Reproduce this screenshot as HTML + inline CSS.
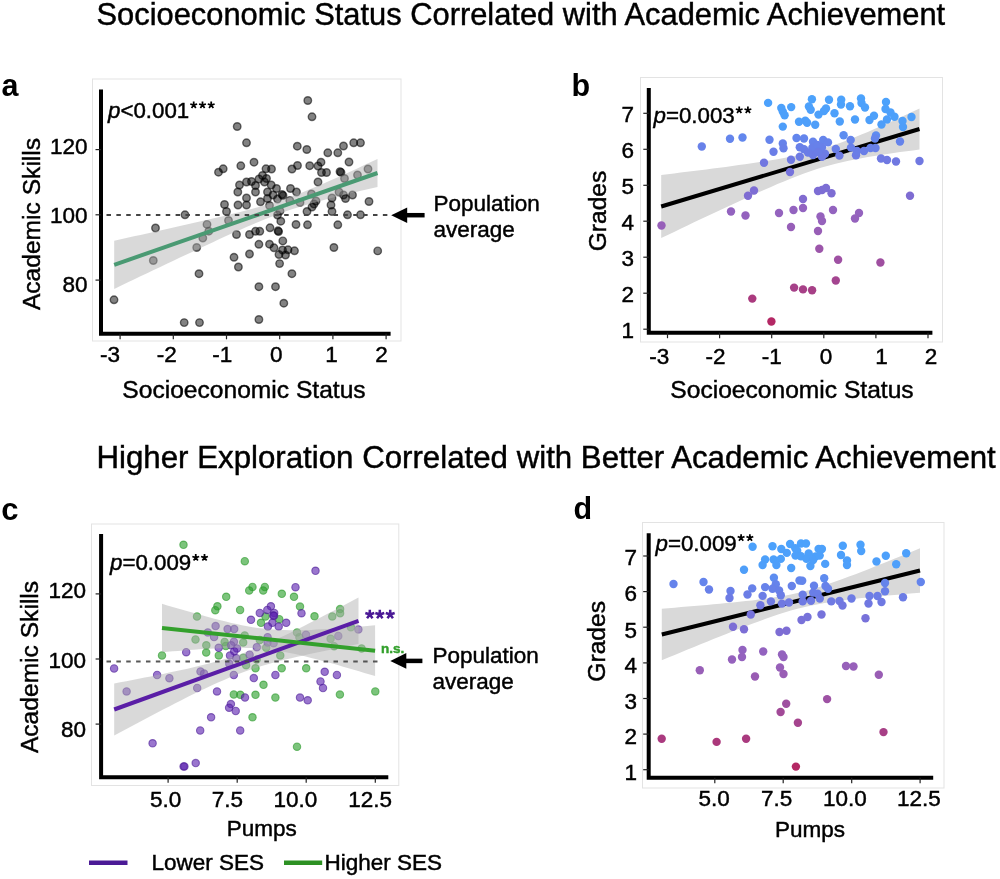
<!DOCTYPE html>
<html><head><meta charset="utf-8"><style>
html,body{margin:0;padding:0;background:#fff;}
svg{display:block;font-family:"Liberation Sans", sans-serif;will-change:transform;}
</style></head><body>
<svg width="1000" height="879" viewBox="0 0 1000 879">
<rect width="1000" height="879" fill="#fff"/>
<text x="96.5" y="25.0" font-size="30.85" text-anchor="start" font-weight="normal" font-style="normal" fill="#000"  stroke="#000" stroke-width="0.45">Socioeconomic Status Correlated with Academic Achievement</text>
<text x="96.5" y="468.4" font-size="31.24" text-anchor="start" font-weight="normal" font-style="normal" fill="#000"  stroke="#000" stroke-width="0.45">Higher Exploration Correlated with Better Academic Achievement</text>
<text x="1.5" y="96.0" font-size="30.5" text-anchor="start" font-weight="bold" font-style="normal" fill="#000" >a</text>
<rect x="92.5" y="79.0" width="308.5" height="262.0" fill="none" stroke="#e3e3e3" stroke-width="1"/>
<circle cx="237.2" cy="126.5" r="3.75" fill="#000" fill-opacity="0.49" stroke="#000" stroke-opacity="0.55" stroke-width="1.4"/>
<circle cx="246.5" cy="142.8" r="3.75" fill="#000" fill-opacity="0.49" stroke="#000" stroke-opacity="0.55" stroke-width="1.4"/>
<circle cx="297.3" cy="146.2" r="3.75" fill="#000" fill-opacity="0.49" stroke="#000" stroke-opacity="0.55" stroke-width="1.4"/>
<circle cx="254.0" cy="162.2" r="3.75" fill="#000" fill-opacity="0.49" stroke="#000" stroke-opacity="0.55" stroke-width="1.4"/>
<circle cx="307.8" cy="100.5" r="3.75" fill="#000" fill-opacity="0.49" stroke="#000" stroke-opacity="0.55" stroke-width="1.4"/>
<circle cx="312.0" cy="116.8" r="3.75" fill="#000" fill-opacity="0.49" stroke="#000" stroke-opacity="0.55" stroke-width="1.4"/>
<circle cx="306.8" cy="149.5" r="3.75" fill="#000" fill-opacity="0.49" stroke="#000" stroke-opacity="0.55" stroke-width="1.4"/>
<circle cx="327.8" cy="152.8" r="3.75" fill="#000" fill-opacity="0.49" stroke="#000" stroke-opacity="0.55" stroke-width="1.4"/>
<circle cx="337.8" cy="152.8" r="3.75" fill="#000" fill-opacity="0.49" stroke="#000" stroke-opacity="0.55" stroke-width="1.4"/>
<circle cx="343.5" cy="146.0" r="3.75" fill="#000" fill-opacity="0.49" stroke="#000" stroke-opacity="0.55" stroke-width="1.4"/>
<circle cx="353.7" cy="142.8" r="3.75" fill="#000" fill-opacity="0.49" stroke="#000" stroke-opacity="0.55" stroke-width="1.4"/>
<circle cx="360.5" cy="142.8" r="3.75" fill="#000" fill-opacity="0.49" stroke="#000" stroke-opacity="0.55" stroke-width="1.4"/>
<circle cx="349.0" cy="162.0" r="3.75" fill="#000" fill-opacity="0.49" stroke="#000" stroke-opacity="0.55" stroke-width="1.4"/>
<circle cx="321.0" cy="162.2" r="3.75" fill="#000" fill-opacity="0.49" stroke="#000" stroke-opacity="0.55" stroke-width="1.4"/>
<circle cx="240.8" cy="165.8" r="3.75" fill="#000" fill-opacity="0.49" stroke="#000" stroke-opacity="0.55" stroke-width="1.4"/>
<circle cx="223.2" cy="168.8" r="3.75" fill="#000" fill-opacity="0.49" stroke="#000" stroke-opacity="0.55" stroke-width="1.4"/>
<circle cx="218.5" cy="172.2" r="3.75" fill="#000" fill-opacity="0.49" stroke="#000" stroke-opacity="0.55" stroke-width="1.4"/>
<circle cx="266.0" cy="168.8" r="3.75" fill="#000" fill-opacity="0.49" stroke="#000" stroke-opacity="0.55" stroke-width="1.4"/>
<circle cx="271.5" cy="169.0" r="3.75" fill="#000" fill-opacity="0.49" stroke="#000" stroke-opacity="0.55" stroke-width="1.4"/>
<circle cx="292.0" cy="169.0" r="3.75" fill="#000" fill-opacity="0.49" stroke="#000" stroke-opacity="0.55" stroke-width="1.4"/>
<circle cx="297.5" cy="165.5" r="3.75" fill="#000" fill-opacity="0.49" stroke="#000" stroke-opacity="0.55" stroke-width="1.4"/>
<circle cx="262.5" cy="175.5" r="3.75" fill="#000" fill-opacity="0.49" stroke="#000" stroke-opacity="0.55" stroke-width="1.4"/>
<circle cx="259.0" cy="179.0" r="3.75" fill="#000" fill-opacity="0.49" stroke="#000" stroke-opacity="0.55" stroke-width="1.4"/>
<circle cx="266.5" cy="178.5" r="3.75" fill="#000" fill-opacity="0.49" stroke="#000" stroke-opacity="0.55" stroke-width="1.4"/>
<circle cx="264.5" cy="182.0" r="3.75" fill="#000" fill-opacity="0.49" stroke="#000" stroke-opacity="0.55" stroke-width="1.4"/>
<circle cx="246.5" cy="182.0" r="3.75" fill="#000" fill-opacity="0.49" stroke="#000" stroke-opacity="0.55" stroke-width="1.4"/>
<circle cx="251.5" cy="181.5" r="3.75" fill="#000" fill-opacity="0.49" stroke="#000" stroke-opacity="0.55" stroke-width="1.4"/>
<circle cx="255.5" cy="185.5" r="3.75" fill="#000" fill-opacity="0.49" stroke="#000" stroke-opacity="0.55" stroke-width="1.4"/>
<circle cx="239.5" cy="185.0" r="3.75" fill="#000" fill-opacity="0.49" stroke="#000" stroke-opacity="0.55" stroke-width="1.4"/>
<circle cx="271.2" cy="185.0" r="3.75" fill="#000" fill-opacity="0.49" stroke="#000" stroke-opacity="0.55" stroke-width="1.4"/>
<circle cx="276.5" cy="188.5" r="3.75" fill="#000" fill-opacity="0.49" stroke="#000" stroke-opacity="0.55" stroke-width="1.4"/>
<circle cx="290.5" cy="188.5" r="3.75" fill="#000" fill-opacity="0.49" stroke="#000" stroke-opacity="0.55" stroke-width="1.4"/>
<circle cx="296.5" cy="192.0" r="3.75" fill="#000" fill-opacity="0.49" stroke="#000" stroke-opacity="0.55" stroke-width="1.4"/>
<circle cx="237.8" cy="192.0" r="3.75" fill="#000" fill-opacity="0.49" stroke="#000" stroke-opacity="0.55" stroke-width="1.4"/>
<circle cx="255.5" cy="192.0" r="3.75" fill="#000" fill-opacity="0.49" stroke="#000" stroke-opacity="0.55" stroke-width="1.4"/>
<circle cx="267.5" cy="192.0" r="3.75" fill="#000" fill-opacity="0.49" stroke="#000" stroke-opacity="0.55" stroke-width="1.4"/>
<circle cx="273.0" cy="195.0" r="3.75" fill="#000" fill-opacity="0.49" stroke="#000" stroke-opacity="0.55" stroke-width="1.4"/>
<circle cx="282.0" cy="194.5" r="3.75" fill="#000" fill-opacity="0.49" stroke="#000" stroke-opacity="0.55" stroke-width="1.4"/>
<circle cx="283.0" cy="195.5" r="3.75" fill="#000" fill-opacity="0.49" stroke="#000" stroke-opacity="0.55" stroke-width="1.4"/>
<circle cx="246.5" cy="198.0" r="3.75" fill="#000" fill-opacity="0.49" stroke="#000" stroke-opacity="0.55" stroke-width="1.4"/>
<circle cx="267.5" cy="198.5" r="3.75" fill="#000" fill-opacity="0.49" stroke="#000" stroke-opacity="0.55" stroke-width="1.4"/>
<circle cx="277.5" cy="199.0" r="3.75" fill="#000" fill-opacity="0.49" stroke="#000" stroke-opacity="0.55" stroke-width="1.4"/>
<circle cx="260.5" cy="201.8" r="3.75" fill="#000" fill-opacity="0.49" stroke="#000" stroke-opacity="0.55" stroke-width="1.4"/>
<circle cx="224.5" cy="204.5" r="3.75" fill="#000" fill-opacity="0.49" stroke="#000" stroke-opacity="0.55" stroke-width="1.4"/>
<circle cx="238.0" cy="205.0" r="3.75" fill="#000" fill-opacity="0.49" stroke="#000" stroke-opacity="0.55" stroke-width="1.4"/>
<circle cx="246.5" cy="205.0" r="3.75" fill="#000" fill-opacity="0.49" stroke="#000" stroke-opacity="0.55" stroke-width="1.4"/>
<circle cx="289.8" cy="200.5" r="3.75" fill="#000" fill-opacity="0.49" stroke="#000" stroke-opacity="0.55" stroke-width="1.4"/>
<circle cx="269.5" cy="205.5" r="3.75" fill="#000" fill-opacity="0.49" stroke="#000" stroke-opacity="0.55" stroke-width="1.4"/>
<circle cx="300.0" cy="202.5" r="3.75" fill="#000" fill-opacity="0.49" stroke="#000" stroke-opacity="0.55" stroke-width="1.4"/>
<circle cx="226.5" cy="211.5" r="3.75" fill="#000" fill-opacity="0.49" stroke="#000" stroke-opacity="0.55" stroke-width="1.4"/>
<circle cx="280.0" cy="211.0" r="3.75" fill="#000" fill-opacity="0.49" stroke="#000" stroke-opacity="0.55" stroke-width="1.4"/>
<circle cx="277.5" cy="215.0" r="3.75" fill="#000" fill-opacity="0.49" stroke="#000" stroke-opacity="0.55" stroke-width="1.4"/>
<circle cx="280.8" cy="221.2" r="3.75" fill="#000" fill-opacity="0.49" stroke="#000" stroke-opacity="0.55" stroke-width="1.4"/>
<circle cx="207.0" cy="224.4" r="3.75" fill="#000" fill-opacity="0.49" stroke="#000" stroke-opacity="0.55" stroke-width="1.4"/>
<circle cx="228.5" cy="220.5" r="3.75" fill="#000" fill-opacity="0.49" stroke="#000" stroke-opacity="0.55" stroke-width="1.4"/>
<circle cx="296.0" cy="224.5" r="3.75" fill="#000" fill-opacity="0.49" stroke="#000" stroke-opacity="0.55" stroke-width="1.4"/>
<circle cx="208.8" cy="231.2" r="3.75" fill="#000" fill-opacity="0.49" stroke="#000" stroke-opacity="0.55" stroke-width="1.4"/>
<circle cx="236.5" cy="234.5" r="3.75" fill="#000" fill-opacity="0.49" stroke="#000" stroke-opacity="0.55" stroke-width="1.4"/>
<circle cx="249.5" cy="234.5" r="3.75" fill="#000" fill-opacity="0.49" stroke="#000" stroke-opacity="0.55" stroke-width="1.4"/>
<circle cx="255.5" cy="231.3" r="3.75" fill="#000" fill-opacity="0.49" stroke="#000" stroke-opacity="0.55" stroke-width="1.4"/>
<circle cx="259.8" cy="231.3" r="3.75" fill="#000" fill-opacity="0.49" stroke="#000" stroke-opacity="0.55" stroke-width="1.4"/>
<circle cx="270.0" cy="227.8" r="3.75" fill="#000" fill-opacity="0.49" stroke="#000" stroke-opacity="0.55" stroke-width="1.4"/>
<circle cx="278.0" cy="230.8" r="3.75" fill="#000" fill-opacity="0.49" stroke="#000" stroke-opacity="0.55" stroke-width="1.4"/>
<circle cx="278.6" cy="231.6" r="3.75" fill="#000" fill-opacity="0.49" stroke="#000" stroke-opacity="0.55" stroke-width="1.4"/>
<circle cx="202.8" cy="238.0" r="3.75" fill="#000" fill-opacity="0.49" stroke="#000" stroke-opacity="0.55" stroke-width="1.4"/>
<circle cx="185.0" cy="214.8" r="3.75" fill="#000" fill-opacity="0.49" stroke="#000" stroke-opacity="0.55" stroke-width="1.4"/>
<circle cx="155.5" cy="228.0" r="3.75" fill="#000" fill-opacity="0.49" stroke="#000" stroke-opacity="0.55" stroke-width="1.4"/>
<circle cx="153.3" cy="260.5" r="3.75" fill="#000" fill-opacity="0.49" stroke="#000" stroke-opacity="0.55" stroke-width="1.4"/>
<circle cx="196.7" cy="247.5" r="3.75" fill="#000" fill-opacity="0.49" stroke="#000" stroke-opacity="0.55" stroke-width="1.4"/>
<circle cx="199.0" cy="273.7" r="3.75" fill="#000" fill-opacity="0.49" stroke="#000" stroke-opacity="0.55" stroke-width="1.4"/>
<circle cx="114.0" cy="299.8" r="3.75" fill="#000" fill-opacity="0.49" stroke="#000" stroke-opacity="0.55" stroke-width="1.4"/>
<circle cx="184.2" cy="322.6" r="3.75" fill="#000" fill-opacity="0.49" stroke="#000" stroke-opacity="0.55" stroke-width="1.4"/>
<circle cx="199.5" cy="322.6" r="3.75" fill="#000" fill-opacity="0.49" stroke="#000" stroke-opacity="0.55" stroke-width="1.4"/>
<circle cx="309.7" cy="165.7" r="3.75" fill="#000" fill-opacity="0.49" stroke="#000" stroke-opacity="0.55" stroke-width="1.4"/>
<circle cx="318.0" cy="166.0" r="3.75" fill="#000" fill-opacity="0.49" stroke="#000" stroke-opacity="0.55" stroke-width="1.4"/>
<circle cx="321.5" cy="172.5" r="3.75" fill="#000" fill-opacity="0.49" stroke="#000" stroke-opacity="0.55" stroke-width="1.4"/>
<circle cx="326.5" cy="172.5" r="3.75" fill="#000" fill-opacity="0.49" stroke="#000" stroke-opacity="0.55" stroke-width="1.4"/>
<circle cx="340.0" cy="171.6" r="3.75" fill="#000" fill-opacity="0.49" stroke="#000" stroke-opacity="0.55" stroke-width="1.4"/>
<circle cx="341.0" cy="172.4" r="3.75" fill="#000" fill-opacity="0.49" stroke="#000" stroke-opacity="0.55" stroke-width="1.4"/>
<circle cx="344.5" cy="178.5" r="3.75" fill="#000" fill-opacity="0.49" stroke="#000" stroke-opacity="0.55" stroke-width="1.4"/>
<circle cx="357.5" cy="175.0" r="3.75" fill="#000" fill-opacity="0.49" stroke="#000" stroke-opacity="0.55" stroke-width="1.4"/>
<circle cx="368.0" cy="169.0" r="3.75" fill="#000" fill-opacity="0.49" stroke="#000" stroke-opacity="0.55" stroke-width="1.4"/>
<circle cx="318.0" cy="182.0" r="3.75" fill="#000" fill-opacity="0.49" stroke="#000" stroke-opacity="0.55" stroke-width="1.4"/>
<circle cx="311.5" cy="194.0" r="3.75" fill="#000" fill-opacity="0.49" stroke="#000" stroke-opacity="0.55" stroke-width="1.4"/>
<circle cx="316.0" cy="201.0" r="3.75" fill="#000" fill-opacity="0.49" stroke="#000" stroke-opacity="0.55" stroke-width="1.4"/>
<circle cx="314.0" cy="204.0" r="3.75" fill="#000" fill-opacity="0.49" stroke="#000" stroke-opacity="0.55" stroke-width="1.4"/>
<circle cx="312.0" cy="207.0" r="3.75" fill="#000" fill-opacity="0.49" stroke="#000" stroke-opacity="0.55" stroke-width="1.4"/>
<circle cx="307.0" cy="211.5" r="3.75" fill="#000" fill-opacity="0.49" stroke="#000" stroke-opacity="0.55" stroke-width="1.4"/>
<circle cx="332.0" cy="198.0" r="3.75" fill="#000" fill-opacity="0.49" stroke="#000" stroke-opacity="0.55" stroke-width="1.4"/>
<circle cx="331.0" cy="205.0" r="3.75" fill="#000" fill-opacity="0.49" stroke="#000" stroke-opacity="0.55" stroke-width="1.4"/>
<circle cx="332.0" cy="211.5" r="3.75" fill="#000" fill-opacity="0.49" stroke="#000" stroke-opacity="0.55" stroke-width="1.4"/>
<circle cx="339.0" cy="192.0" r="3.75" fill="#000" fill-opacity="0.49" stroke="#000" stroke-opacity="0.55" stroke-width="1.4"/>
<circle cx="343.5" cy="195.0" r="3.75" fill="#000" fill-opacity="0.49" stroke="#000" stroke-opacity="0.55" stroke-width="1.4"/>
<circle cx="345.5" cy="198.5" r="3.75" fill="#000" fill-opacity="0.49" stroke="#000" stroke-opacity="0.55" stroke-width="1.4"/>
<circle cx="352.5" cy="195.0" r="3.75" fill="#000" fill-opacity="0.49" stroke="#000" stroke-opacity="0.55" stroke-width="1.4"/>
<circle cx="369.0" cy="201.5" r="3.75" fill="#000" fill-opacity="0.49" stroke="#000" stroke-opacity="0.55" stroke-width="1.4"/>
<circle cx="347.5" cy="214.8" r="3.75" fill="#000" fill-opacity="0.49" stroke="#000" stroke-opacity="0.55" stroke-width="1.4"/>
<circle cx="360.5" cy="214.8" r="3.75" fill="#000" fill-opacity="0.49" stroke="#000" stroke-opacity="0.55" stroke-width="1.4"/>
<circle cx="307.5" cy="224.8" r="3.75" fill="#000" fill-opacity="0.49" stroke="#000" stroke-opacity="0.55" stroke-width="1.4"/>
<circle cx="337.8" cy="224.8" r="3.75" fill="#000" fill-opacity="0.49" stroke="#000" stroke-opacity="0.55" stroke-width="1.4"/>
<circle cx="282.8" cy="240.9" r="3.75" fill="#000" fill-opacity="0.49" stroke="#000" stroke-opacity="0.55" stroke-width="1.4"/>
<circle cx="258.9" cy="244.3" r="3.75" fill="#000" fill-opacity="0.49" stroke="#000" stroke-opacity="0.55" stroke-width="1.4"/>
<circle cx="269.5" cy="244.2" r="3.75" fill="#000" fill-opacity="0.49" stroke="#000" stroke-opacity="0.55" stroke-width="1.4"/>
<circle cx="274.0" cy="247.8" r="3.75" fill="#000" fill-opacity="0.49" stroke="#000" stroke-opacity="0.55" stroke-width="1.4"/>
<circle cx="282.5" cy="250.0" r="3.75" fill="#000" fill-opacity="0.49" stroke="#000" stroke-opacity="0.55" stroke-width="1.4"/>
<circle cx="288.0" cy="249.8" r="3.75" fill="#000" fill-opacity="0.49" stroke="#000" stroke-opacity="0.55" stroke-width="1.4"/>
<circle cx="279.0" cy="254.5" r="3.75" fill="#000" fill-opacity="0.49" stroke="#000" stroke-opacity="0.55" stroke-width="1.4"/>
<circle cx="285.5" cy="255.0" r="3.75" fill="#000" fill-opacity="0.49" stroke="#000" stroke-opacity="0.55" stroke-width="1.4"/>
<circle cx="294.5" cy="250.8" r="3.75" fill="#000" fill-opacity="0.49" stroke="#000" stroke-opacity="0.55" stroke-width="1.4"/>
<circle cx="249.5" cy="254.0" r="3.75" fill="#000" fill-opacity="0.49" stroke="#000" stroke-opacity="0.55" stroke-width="1.4"/>
<circle cx="234.0" cy="257.3" r="3.75" fill="#000" fill-opacity="0.49" stroke="#000" stroke-opacity="0.55" stroke-width="1.4"/>
<circle cx="238.4" cy="267.0" r="3.75" fill="#000" fill-opacity="0.49" stroke="#000" stroke-opacity="0.55" stroke-width="1.4"/>
<circle cx="279.6" cy="263.6" r="3.75" fill="#000" fill-opacity="0.49" stroke="#000" stroke-opacity="0.55" stroke-width="1.4"/>
<circle cx="291.9" cy="273.7" r="3.75" fill="#000" fill-opacity="0.49" stroke="#000" stroke-opacity="0.55" stroke-width="1.4"/>
<circle cx="258.9" cy="286.7" r="3.75" fill="#000" fill-opacity="0.49" stroke="#000" stroke-opacity="0.55" stroke-width="1.4"/>
<circle cx="275.5" cy="286.7" r="3.75" fill="#000" fill-opacity="0.49" stroke="#000" stroke-opacity="0.55" stroke-width="1.4"/>
<circle cx="283.8" cy="303.2" r="3.75" fill="#000" fill-opacity="0.49" stroke="#000" stroke-opacity="0.55" stroke-width="1.4"/>
<circle cx="258.9" cy="319.5" r="3.75" fill="#000" fill-opacity="0.49" stroke="#000" stroke-opacity="0.55" stroke-width="1.4"/>
<circle cx="333.9" cy="247.5" r="3.75" fill="#000" fill-opacity="0.49" stroke="#000" stroke-opacity="0.55" stroke-width="1.4"/>
<circle cx="377.7" cy="250.9" r="3.75" fill="#000" fill-opacity="0.49" stroke="#000" stroke-opacity="0.55" stroke-width="1.4"/>
<path d="M114.2,240.7 L120.8,239.2 L127.4,237.8 L133.9,236.3 L140.5,234.9 L147.1,233.4 L153.7,232.0 L160.3,230.5 L166.9,229.1 L173.4,227.6 L180.0,226.1 L186.6,224.6 L193.2,223.1 L199.8,221.6 L206.4,220.1 L212.9,218.6 L219.5,217.0 L226.1,215.4 L232.7,213.8 L239.3,212.2 L245.9,210.5 L252.4,208.7 L259.0,206.9 L265.6,205.0 L272.2,203.0 L278.8,200.9 L285.3,198.7 L291.9,196.3 L298.5,193.9 L305.1,191.3 L311.7,188.6 L318.3,185.8 L324.8,183.0 L331.4,180.1 L338.0,177.2 L344.6,174.2 L351.2,171.2 L357.8,168.2 L364.3,165.1 L370.9,162.1 L377.5,159.0 L377.5,187.0 L370.9,188.5 L364.3,190.0 L357.8,191.6 L351.2,193.1 L344.6,194.7 L338.0,196.3 L331.4,198.0 L324.8,199.7 L318.3,201.4 L311.7,203.3 L305.1,205.2 L298.5,207.2 L291.9,209.3 L285.3,211.6 L278.8,213.9 L272.2,216.4 L265.6,219.0 L259.0,221.7 L252.4,224.5 L245.9,227.3 L239.3,230.2 L232.7,233.1 L226.1,236.1 L219.5,239.1 L212.9,242.2 L206.4,245.2 L199.8,248.3 L193.2,251.4 L186.6,254.5 L180.0,257.6 L173.4,260.7 L166.9,263.8 L160.3,266.9 L153.7,270.1 L147.1,273.2 L140.5,276.3 L133.9,279.5 L127.4,282.6 L120.8,285.8 L114.2,288.9Z" fill="#aeaeae" fill-opacity="0.47"/>
<line x1="114.2" y1="264.8" x2="377.5" y2="173.0" stroke="#4a9a73" stroke-width="4" />
<line x1="106.5" y1="215.0" x2="388.0" y2="215.0" stroke="#454545" stroke-width="2" stroke-dasharray="4.5,5.37"/>
<path d="M101.0,89.5 L101.0,333.8 L390.6,333.8" fill="none" stroke="#000" stroke-width="4" stroke-linejoin="miter" stroke-linecap="butt"/>
<line x1="95.5" y1="149.6" x2="101.0" y2="149.6" stroke="#222" stroke-width="1.2" />
<line x1="95.5" y1="214.8" x2="101.0" y2="214.8" stroke="#222" stroke-width="1.2" />
<line x1="95.5" y1="280.1" x2="101.0" y2="280.1" stroke="#222" stroke-width="1.2" />
<line x1="120.1" y1="333.8" x2="120.1" y2="339.3" stroke="#222" stroke-width="1.2" />
<line x1="173.3" y1="333.8" x2="173.3" y2="339.3" stroke="#222" stroke-width="1.2" />
<line x1="226.5" y1="333.8" x2="226.5" y2="339.3" stroke="#222" stroke-width="1.2" />
<line x1="279.7" y1="333.8" x2="279.7" y2="339.3" stroke="#222" stroke-width="1.2" />
<line x1="332.9" y1="333.8" x2="332.9" y2="339.3" stroke="#222" stroke-width="1.2" />
<line x1="386.1" y1="333.8" x2="386.1" y2="339.3" stroke="#222" stroke-width="1.2" />
<text x="87.5" y="153.6" font-size="22.5" text-anchor="end" font-weight="normal" font-style="normal" fill="#000"  stroke="#000" stroke-width="0.45">120</text>
<text x="87.5" y="222.9" font-size="22.5" text-anchor="end" font-weight="normal" font-style="normal" fill="#000"  stroke="#000" stroke-width="0.45">100</text>
<text x="87.5" y="291.6" font-size="22.5" text-anchor="end" font-weight="normal" font-style="normal" fill="#000"  stroke="#000" stroke-width="0.45">80</text>
<text x="110.0" y="362.2" font-size="22.5" text-anchor="middle" font-weight="normal" font-style="normal" fill="#000"  stroke="#000" stroke-width="0.45">-3</text>
<text x="166.7" y="362.2" font-size="22.5" text-anchor="middle" font-weight="normal" font-style="normal" fill="#000"  stroke="#000" stroke-width="0.45">-2</text>
<text x="222.2" y="362.2" font-size="22.5" text-anchor="middle" font-weight="normal" font-style="normal" fill="#000"  stroke="#000" stroke-width="0.45">-1</text>
<text x="276.2" y="362.2" font-size="22.5" text-anchor="middle" font-weight="normal" font-style="normal" fill="#000"  stroke="#000" stroke-width="0.45">0</text>
<text x="331.5" y="362.2" font-size="22.5" text-anchor="middle" font-weight="normal" font-style="normal" fill="#000"  stroke="#000" stroke-width="0.45">1</text>
<text x="381.4" y="362.2" font-size="22.5" text-anchor="middle" font-weight="normal" font-style="normal" fill="#000"  stroke="#000" stroke-width="0.45">2</text>
<text x="244.0" y="397.6" font-size="24.6" text-anchor="middle" font-weight="normal" font-style="normal" fill="#000"  stroke="#000" stroke-width="0.45">Socioeconomic Status</text>
<text x="39.5" y="224.0" font-size="24.6" text-anchor="middle" font-weight="normal" font-style="normal" fill="#000" transform="rotate(-90 39.5 224)" stroke="#000" stroke-width="0.45">Academic Skills</text>
<text x="108.0" y="117.5" font-size="22.3" text-anchor="start" font-weight="normal" font-style="normal" fill="#000"  stroke="#000" stroke-width="0.45"><tspan font-style="italic">p</tspan>&lt;0.001</text>
<path d="M193.70,105.10 L193.70,101.50 M193.70,105.10 L197.12,103.99 M193.70,105.10 L195.82,108.01 M193.70,105.10 L191.58,108.01 M193.70,105.10 L190.28,103.99 " stroke="#000" stroke-width="1.75" stroke-linecap="butt" fill="none"/>
<path d="M202.50,105.10 L202.50,101.50 M202.50,105.10 L205.92,103.99 M202.50,105.10 L204.62,108.01 M202.50,105.10 L200.38,108.01 M202.50,105.10 L199.08,103.99 " stroke="#000" stroke-width="1.75" stroke-linecap="butt" fill="none"/>
<path d="M211.20,105.10 L211.20,101.50 M211.20,105.10 L214.62,103.99 M211.20,105.10 L213.32,108.01 M211.20,105.10 L209.08,108.01 M211.20,105.10 L207.78,103.99 " stroke="#000" stroke-width="1.75" stroke-linecap="butt" fill="none"/>
<line x1="403.2" y1="215.2" x2="424.6" y2="215.2" stroke="#000" stroke-width="4.5" />
<path d="M391.2,215.2 L407.2,207.4 L407.2,223.0Z" fill="#000"/>
<text x="433.5" y="211.2" font-size="22.5" text-anchor="start" font-weight="normal" font-style="normal" fill="#000"  stroke="#000" stroke-width="0.45">Population</text>
<text x="433.5" y="237.3" font-size="22.5" text-anchor="start" font-weight="normal" font-style="normal" fill="#000"  stroke="#000" stroke-width="0.45">average</text>
<text x="571.5" y="95.8" font-size="30.5" text-anchor="start" font-weight="bold" font-style="normal" fill="#000" >b</text>
<rect x="640.5" y="77.5" width="302.0" height="264.5" fill="none" stroke="#e3e3e3" stroke-width="1"/>
<path d="M661.2,175.0 L667.7,174.2 L674.1,173.4 L680.6,172.6 L687.0,171.8 L693.5,171.0 L699.9,170.2 L706.4,169.4 L712.9,168.5 L719.3,167.7 L725.8,166.9 L732.2,166.0 L738.7,165.1 L745.1,164.2 L751.6,163.3 L758.1,162.3 L764.5,161.3 L771.0,160.3 L777.4,159.2 L783.9,158.0 L790.4,156.8 L796.8,155.5 L803.3,154.0 L809.7,152.4 L816.2,150.7 L822.6,148.8 L829.1,146.8 L835.6,144.6 L842.0,142.3 L848.5,139.8 L854.9,137.3 L861.4,134.6 L867.8,131.9 L874.3,129.1 L880.8,126.3 L887.2,123.4 L893.7,120.5 L900.1,117.5 L906.6,114.5 L913.0,111.5 L919.5,108.5 L919.5,149.5 L913.0,150.4 L906.6,151.2 L900.1,152.1 L893.7,153.1 L887.2,154.0 L880.8,155.0 L874.3,156.0 L867.8,157.1 L861.4,158.3 L854.9,159.5 L848.5,160.8 L842.0,162.2 L835.6,163.8 L829.1,165.4 L822.6,167.3 L816.2,169.3 L809.7,171.4 L803.3,173.7 L796.8,176.2 L790.4,178.7 L783.9,181.4 L777.4,184.1 L771.0,186.9 L764.5,189.7 L758.1,192.6 L751.6,195.5 L745.1,198.4 L738.7,201.4 L732.2,204.4 L725.8,207.4 L719.3,210.4 L712.9,213.5 L706.4,216.5 L699.9,219.6 L693.5,222.6 L687.0,225.7 L680.6,228.8 L674.1,231.9 L667.7,235.0 L661.2,238.0Z" fill="#d9d9d9" fill-opacity="1.0"/>
<line x1="661.2" y1="206.5" x2="919.5" y2="129.0" stroke="#000" stroke-width="4" />
<circle cx="768.1" cy="102.9" r="4.2" fill="#4ca1fc"/>
<circle cx="781.3" cy="108.0" r="4.2" fill="#4da1fb"/>
<circle cx="791.2" cy="107.1" r="4.2" fill="#4da1fb"/>
<circle cx="782.8" cy="111.6" r="4.2" fill="#4da0fb"/>
<circle cx="784.6" cy="115.2" r="4.2" fill="#4da0fa"/>
<circle cx="811.9" cy="99.3" r="4.2" fill="#4ca2fc"/>
<circle cx="808.9" cy="106.5" r="4.2" fill="#4da1fb"/>
<circle cx="810.7" cy="109.8" r="4.2" fill="#4da0fb"/>
<circle cx="818.5" cy="114.6" r="4.2" fill="#4da0fa"/>
<circle cx="799.0" cy="121.8" r="4.2" fill="#4e9ffa"/>
<circle cx="805.3" cy="120.6" r="4.2" fill="#4e9ffa"/>
<circle cx="807.1" cy="122.7" r="4.2" fill="#4e9ffa"/>
<circle cx="815.2" cy="124.8" r="4.2" fill="#4e9ef9"/>
<circle cx="782.8" cy="126.6" r="4.2" fill="#4e9ef9"/>
<circle cx="829.0" cy="99.8" r="4.2" fill="#4ca2fc"/>
<circle cx="841.2" cy="99.8" r="4.2" fill="#4ca2fc"/>
<circle cx="841.0" cy="104.5" r="4.2" fill="#4ca1fb"/>
<circle cx="850.0" cy="106.3" r="4.2" fill="#4da1fb"/>
<circle cx="826.0" cy="108.5" r="4.2" fill="#4da1fb"/>
<circle cx="824.0" cy="111.0" r="4.2" fill="#4da0fb"/>
<circle cx="834.5" cy="113.2" r="4.2" fill="#4da0fb"/>
<circle cx="839.8" cy="121.5" r="4.2" fill="#4e9ffa"/>
<circle cx="861.0" cy="98.5" r="4.2" fill="#4ca2fc"/>
<circle cx="861.5" cy="103.0" r="4.2" fill="#4ca1fc"/>
<circle cx="865.0" cy="107.5" r="4.2" fill="#4da1fb"/>
<circle cx="855.0" cy="119.5" r="4.2" fill="#4d9ffa"/>
<circle cx="869.5" cy="120.0" r="4.2" fill="#4d9ffa"/>
<circle cx="874.0" cy="115.8" r="4.2" fill="#4da0fa"/>
<circle cx="886.0" cy="102.0" r="4.2" fill="#4ca2fc"/>
<circle cx="885.5" cy="109.0" r="4.2" fill="#4da1fb"/>
<circle cx="890.5" cy="112.5" r="4.2" fill="#4da0fb"/>
<circle cx="894.5" cy="116.8" r="4.2" fill="#4da0fa"/>
<circle cx="887.0" cy="119.5" r="4.2" fill="#4d9ffa"/>
<circle cx="881.5" cy="124.5" r="4.2" fill="#4e9ef9"/>
<circle cx="902.5" cy="121.0" r="4.2" fill="#4e9ffa"/>
<circle cx="903.0" cy="127.0" r="4.2" fill="#4e9ef9"/>
<circle cx="911.5" cy="117.0" r="4.2" fill="#4d9ffa"/>
<circle cx="701.8" cy="146.5" r="4.2" fill="#6881e9"/>
<circle cx="730.0" cy="138.8" r="4.2" fill="#6485ec"/>
<circle cx="742.5" cy="137.5" r="4.2" fill="#6287ed"/>
<circle cx="769.5" cy="139.8" r="4.2" fill="#6584ec"/>
<circle cx="773.5" cy="151.8" r="4.2" fill="#6b7ee7"/>
<circle cx="782.8" cy="143.5" r="4.2" fill="#6682ea"/>
<circle cx="783.5" cy="148.2" r="4.2" fill="#6880e8"/>
<circle cx="796.5" cy="138.0" r="4.2" fill="#6386ed"/>
<circle cx="804.0" cy="138.5" r="4.2" fill="#6485ec"/>
<circle cx="799.8" cy="147.2" r="4.2" fill="#6880e9"/>
<circle cx="804.0" cy="149.3" r="4.2" fill="#697fe8"/>
<circle cx="799.8" cy="156.8" r="4.2" fill="#6e7be4"/>
<circle cx="791.0" cy="159.8" r="4.2" fill="#6f79e2"/>
<circle cx="764.0" cy="162.8" r="4.2" fill="#7177e0"/>
<circle cx="813.0" cy="141.8" r="4.2" fill="#6683eb"/>
<circle cx="823.2" cy="140.0" r="4.2" fill="#6584eb"/>
<circle cx="828.0" cy="142.4" r="4.2" fill="#6683eb"/>
<circle cx="812.4" cy="147.8" r="4.2" fill="#6880e9"/>
<circle cx="813.0" cy="155.0" r="4.2" fill="#6c7ce5"/>
<circle cx="822.0" cy="147.2" r="4.2" fill="#6880e9"/>
<circle cx="825.0" cy="153.8" r="4.2" fill="#6c7ce5"/>
<circle cx="822.0" cy="156.8" r="4.2" fill="#6e7be4"/>
<circle cx="835.8" cy="149.0" r="4.2" fill="#697fe8"/>
<circle cx="839.4" cy="155.6" r="4.2" fill="#6d7be4"/>
<circle cx="843.6" cy="135.2" r="4.2" fill="#5d8df0"/>
<circle cx="850.7" cy="140.0" r="4.2" fill="#6584eb"/>
<circle cx="851.0" cy="147.6" r="4.2" fill="#6880e9"/>
<circle cx="856.0" cy="155.3" r="4.2" fill="#6d7ce5"/>
<circle cx="876.0" cy="135.5" r="4.2" fill="#5e8cf0"/>
<circle cx="875.0" cy="138.5" r="4.2" fill="#6485ec"/>
<circle cx="900.0" cy="141.5" r="4.2" fill="#6583eb"/>
<circle cx="817.5" cy="145.0" r="4.2" fill="#6781ea"/>
<circle cx="818.0" cy="152.0" r="4.2" fill="#6b7de6"/>
<circle cx="808.0" cy="152.5" r="4.2" fill="#6b7de6"/>
<circle cx="857.0" cy="151.0" r="4.2" fill="#6a7ee7"/>
<circle cx="864.0" cy="151.0" r="4.2" fill="#6a7ee7"/>
<circle cx="870.5" cy="148.0" r="4.2" fill="#6880e8"/>
<circle cx="875.5" cy="148.0" r="4.2" fill="#6880e8"/>
<circle cx="881.0" cy="158.5" r="4.2" fill="#6f7ae3"/>
<circle cx="887.0" cy="160.0" r="4.2" fill="#7079e2"/>
<circle cx="896.0" cy="161.5" r="4.2" fill="#7078e1"/>
<circle cx="919.5" cy="161.0" r="4.2" fill="#7078e1"/>
<circle cx="790.0" cy="172.0" r="4.2" fill="#7673dc"/>
<circle cx="754.0" cy="190.5" r="4.2" fill="#7d6dd4"/>
<circle cx="748.0" cy="195.8" r="4.2" fill="#7e6cd2"/>
<circle cx="803.0" cy="199.0" r="4.2" fill="#816bd0"/>
<circle cx="818.0" cy="191.0" r="4.2" fill="#7d6dd4"/>
<circle cx="822.0" cy="190.0" r="4.2" fill="#7d6dd4"/>
<circle cx="826.0" cy="188.0" r="4.2" fill="#7c6ed4"/>
<circle cx="831.5" cy="193.2" r="4.2" fill="#7d6dd3"/>
<circle cx="661.5" cy="225.5" r="4.2" fill="#9760b9"/>
<circle cx="731.0" cy="211.5" r="4.2" fill="#9363bf"/>
<circle cx="745.5" cy="215.5" r="4.2" fill="#9462be"/>
<circle cx="779.0" cy="213.0" r="4.2" fill="#9463be"/>
<circle cx="793.5" cy="210.0" r="4.2" fill="#9363bf"/>
<circle cx="803.0" cy="208.0" r="4.2" fill="#9263c0"/>
<circle cx="833.0" cy="210.0" r="4.2" fill="#9363bf"/>
<circle cx="820.5" cy="216.5" r="4.2" fill="#9562bd"/>
<circle cx="822.0" cy="221.0" r="4.2" fill="#9662bc"/>
<circle cx="791.0" cy="227.0" r="4.2" fill="#975fb8"/>
<circle cx="818.0" cy="231.0" r="4.2" fill="#985eb6"/>
<circle cx="910.0" cy="195.8" r="4.2" fill="#7e6cd2"/>
<circle cx="859.0" cy="213.0" r="4.2" fill="#9463be"/>
<circle cx="855.0" cy="218.5" r="4.2" fill="#9562bd"/>
<circle cx="752.3" cy="298.6" r="4.2" fill="#aa3a7e"/>
<circle cx="771.4" cy="321.5" r="4.2" fill="#b42865"/>
<circle cx="794.1" cy="287.6" r="4.2" fill="#a64189"/>
<circle cx="803.0" cy="289.4" r="4.2" fill="#a74087"/>
<circle cx="812.1" cy="290.2" r="4.2" fill="#a74087"/>
<circle cx="835.8" cy="280.5" r="4.2" fill="#a44590"/>
<circle cx="819.3" cy="248.7" r="4.2" fill="#9c56aa"/>
<circle cx="838.1" cy="259.8" r="4.2" fill="#9f51a3"/>
<circle cx="880.4" cy="262.5" r="4.2" fill="#9f4fa0"/>
<path d="M648.8,88.1 L648.8,332.7 L932.4,332.7" fill="none" stroke="#000" stroke-width="4" stroke-linejoin="miter" stroke-linecap="butt"/>
<line x1="643.3" y1="113.3" x2="648.8" y2="113.3" stroke="#222" stroke-width="1.2" />
<line x1="643.3" y1="149.3" x2="648.8" y2="149.3" stroke="#222" stroke-width="1.2" />
<line x1="643.3" y1="185.3" x2="648.8" y2="185.3" stroke="#222" stroke-width="1.2" />
<line x1="643.3" y1="221.2" x2="648.8" y2="221.2" stroke="#222" stroke-width="1.2" />
<line x1="643.3" y1="257.2" x2="648.8" y2="257.2" stroke="#222" stroke-width="1.2" />
<line x1="643.3" y1="293.2" x2="648.8" y2="293.2" stroke="#222" stroke-width="1.2" />
<line x1="643.3" y1="329.2" x2="648.8" y2="329.2" stroke="#222" stroke-width="1.2" />
<line x1="667.5" y1="332.7" x2="667.5" y2="338.2" stroke="#222" stroke-width="1.2" />
<line x1="719.6" y1="332.7" x2="719.6" y2="338.2" stroke="#222" stroke-width="1.2" />
<line x1="771.7" y1="332.7" x2="771.7" y2="338.2" stroke="#222" stroke-width="1.2" />
<line x1="823.8" y1="332.7" x2="823.8" y2="338.2" stroke="#222" stroke-width="1.2" />
<line x1="875.9" y1="332.7" x2="875.9" y2="338.2" stroke="#222" stroke-width="1.2" />
<line x1="928.0" y1="332.7" x2="928.0" y2="338.2" stroke="#222" stroke-width="1.2" />
<text x="634.0" y="121.7" font-size="22.5" text-anchor="end" font-weight="normal" font-style="normal" fill="#000"  stroke="#000" stroke-width="0.45">7</text>
<text x="634.0" y="157.7" font-size="22.5" text-anchor="end" font-weight="normal" font-style="normal" fill="#000"  stroke="#000" stroke-width="0.45">6</text>
<text x="634.0" y="193.7" font-size="22.5" text-anchor="end" font-weight="normal" font-style="normal" fill="#000"  stroke="#000" stroke-width="0.45">5</text>
<text x="634.0" y="229.6" font-size="22.5" text-anchor="end" font-weight="normal" font-style="normal" fill="#000"  stroke="#000" stroke-width="0.45">4</text>
<text x="634.0" y="265.6" font-size="22.5" text-anchor="end" font-weight="normal" font-style="normal" fill="#000"  stroke="#000" stroke-width="0.45">3</text>
<text x="634.0" y="301.6" font-size="22.5" text-anchor="end" font-weight="normal" font-style="normal" fill="#000"  stroke="#000" stroke-width="0.45">2</text>
<text x="634.0" y="337.6" font-size="22.5" text-anchor="end" font-weight="normal" font-style="normal" fill="#000"  stroke="#000" stroke-width="0.45">1</text>
<text x="659.2" y="363.5" font-size="22.5" text-anchor="middle" font-weight="normal" font-style="normal" fill="#000"  stroke="#000" stroke-width="0.45">-3</text>
<text x="715.5" y="363.5" font-size="22.5" text-anchor="middle" font-weight="normal" font-style="normal" fill="#000"  stroke="#000" stroke-width="0.45">-2</text>
<text x="771.8" y="363.5" font-size="22.5" text-anchor="middle" font-weight="normal" font-style="normal" fill="#000"  stroke="#000" stroke-width="0.45">-1</text>
<text x="826.1" y="363.5" font-size="22.5" text-anchor="middle" font-weight="normal" font-style="normal" fill="#000"  stroke="#000" stroke-width="0.45">0</text>
<text x="881.6" y="363.5" font-size="22.5" text-anchor="middle" font-weight="normal" font-style="normal" fill="#000"  stroke="#000" stroke-width="0.45">1</text>
<text x="931.0" y="363.5" font-size="22.5" text-anchor="middle" font-weight="normal" font-style="normal" fill="#000"  stroke="#000" stroke-width="0.45">2</text>
<text x="792.0" y="397.6" font-size="24.6" text-anchor="middle" font-weight="normal" font-style="normal" fill="#000"  stroke="#000" stroke-width="0.45">Socioeconomic Status</text>
<text x="606.4" y="211.0" font-size="24.6" text-anchor="middle" font-weight="normal" font-style="normal" fill="#000" transform="rotate(-90 606.4 211)" stroke="#000" stroke-width="0.45">Grades</text>
<text x="653.5" y="122.5" font-size="22.3" text-anchor="start" font-weight="normal" font-style="normal" fill="#000"  stroke="#000" stroke-width="0.45"><tspan font-style="italic">p</tspan>=0.003</text>
<path d="M739.20,110.10 L739.20,106.50 M739.20,110.10 L742.62,108.99 M739.20,110.10 L741.32,113.01 M739.20,110.10 L737.08,113.01 M739.20,110.10 L735.78,108.99 " stroke="#000" stroke-width="1.75" stroke-linecap="butt" fill="none"/>
<path d="M747.90,110.10 L747.90,106.50 M747.90,110.10 L751.32,108.99 M747.90,110.10 L750.02,113.01 M747.90,110.10 L745.78,113.01 M747.90,110.10 L744.48,108.99 " stroke="#000" stroke-width="1.75" stroke-linecap="butt" fill="none"/>
<text x="1.3" y="519.8" font-size="31" text-anchor="start" font-weight="bold" font-style="normal" fill="#000" >c</text>
<rect x="91.5" y="524.0" width="307.3" height="261.5" fill="none" stroke="#e3e3e3" stroke-width="1"/>
<circle cx="183.5" cy="544.8" r="3.7" fill="#2ca02c" fill-opacity="0.62" stroke="#2a9a2a" stroke-opacity="0.6" stroke-width="1.1"/>
<circle cx="244.8" cy="561.2" r="3.7" fill="#2ca02c" fill-opacity="0.62" stroke="#2a9a2a" stroke-opacity="0.6" stroke-width="1.1"/>
<circle cx="252.5" cy="587.0" r="3.7" fill="#2ca02c" fill-opacity="0.62" stroke="#2a9a2a" stroke-opacity="0.6" stroke-width="1.1"/>
<circle cx="249.2" cy="590.5" r="3.7" fill="#2ca02c" fill-opacity="0.62" stroke="#2a9a2a" stroke-opacity="0.6" stroke-width="1.1"/>
<circle cx="264.8" cy="587.0" r="3.7" fill="#2ca02c" fill-opacity="0.62" stroke="#2a9a2a" stroke-opacity="0.6" stroke-width="1.1"/>
<circle cx="263.2" cy="590.5" r="3.7" fill="#2ca02c" fill-opacity="0.62" stroke="#2a9a2a" stroke-opacity="0.6" stroke-width="1.1"/>
<circle cx="281.8" cy="593.8" r="3.7" fill="#2ca02c" fill-opacity="0.62" stroke="#2a9a2a" stroke-opacity="0.6" stroke-width="1.1"/>
<circle cx="294.0" cy="596.8" r="3.7" fill="#2ca02c" fill-opacity="0.62" stroke="#2a9a2a" stroke-opacity="0.6" stroke-width="1.1"/>
<circle cx="226.2" cy="596.8" r="3.7" fill="#2ca02c" fill-opacity="0.62" stroke="#2a9a2a" stroke-opacity="0.6" stroke-width="1.1"/>
<circle cx="217.4" cy="606.3" r="3.7" fill="#2ca02c" fill-opacity="0.62" stroke="#2a9a2a" stroke-opacity="0.6" stroke-width="1.1"/>
<circle cx="215.3" cy="610.2" r="3.7" fill="#2ca02c" fill-opacity="0.62" stroke="#2a9a2a" stroke-opacity="0.6" stroke-width="1.1"/>
<circle cx="240.1" cy="609.9" r="3.7" fill="#2ca02c" fill-opacity="0.62" stroke="#2a9a2a" stroke-opacity="0.6" stroke-width="1.1"/>
<circle cx="300.0" cy="606.6" r="3.7" fill="#2ca02c" fill-opacity="0.62" stroke="#2a9a2a" stroke-opacity="0.6" stroke-width="1.1"/>
<circle cx="197.0" cy="616.5" r="3.7" fill="#2ca02c" fill-opacity="0.62" stroke="#2a9a2a" stroke-opacity="0.6" stroke-width="1.1"/>
<circle cx="195.5" cy="639.5" r="3.7" fill="#2ca02c" fill-opacity="0.62" stroke="#2a9a2a" stroke-opacity="0.6" stroke-width="1.1"/>
<circle cx="162.0" cy="655.5" r="3.7" fill="#2ca02c" fill-opacity="0.62" stroke="#2a9a2a" stroke-opacity="0.6" stroke-width="1.1"/>
<circle cx="265.5" cy="616.5" r="3.7" fill="#2ca02c" fill-opacity="0.62" stroke="#2a9a2a" stroke-opacity="0.6" stroke-width="1.1"/>
<circle cx="279.3" cy="619.2" r="3.7" fill="#2ca02c" fill-opacity="0.62" stroke="#2a9a2a" stroke-opacity="0.6" stroke-width="1.1"/>
<circle cx="261.0" cy="622.8" r="3.7" fill="#2ca02c" fill-opacity="0.62" stroke="#2a9a2a" stroke-opacity="0.6" stroke-width="1.1"/>
<circle cx="314.5" cy="616.3" r="3.7" fill="#2ca02c" fill-opacity="0.62" stroke="#2a9a2a" stroke-opacity="0.6" stroke-width="1.1"/>
<circle cx="332.3" cy="616.4" r="3.7" fill="#2ca02c" fill-opacity="0.62" stroke="#2a9a2a" stroke-opacity="0.6" stroke-width="1.1"/>
<circle cx="340.1" cy="609.1" r="3.7" fill="#2ca02c" fill-opacity="0.62" stroke="#2a9a2a" stroke-opacity="0.6" stroke-width="1.1"/>
<circle cx="340.1" cy="613.3" r="3.7" fill="#2ca02c" fill-opacity="0.62" stroke="#2a9a2a" stroke-opacity="0.6" stroke-width="1.1"/>
<circle cx="350.9" cy="627.3" r="3.7" fill="#2ca02c" fill-opacity="0.62" stroke="#2a9a2a" stroke-opacity="0.6" stroke-width="1.1"/>
<circle cx="297.0" cy="632.4" r="3.7" fill="#2ca02c" fill-opacity="0.62" stroke="#2a9a2a" stroke-opacity="0.6" stroke-width="1.1"/>
<circle cx="299.4" cy="637.2" r="3.7" fill="#2ca02c" fill-opacity="0.62" stroke="#2a9a2a" stroke-opacity="0.6" stroke-width="1.1"/>
<circle cx="244.7" cy="635.4" r="3.7" fill="#2ca02c" fill-opacity="0.62" stroke="#2a9a2a" stroke-opacity="0.6" stroke-width="1.1"/>
<circle cx="224.6" cy="642.0" r="3.7" fill="#2ca02c" fill-opacity="0.62" stroke="#2a9a2a" stroke-opacity="0.6" stroke-width="1.1"/>
<circle cx="243.2" cy="642.6" r="3.7" fill="#2ca02c" fill-opacity="0.62" stroke="#2a9a2a" stroke-opacity="0.6" stroke-width="1.1"/>
<circle cx="206.3" cy="645.3" r="3.7" fill="#2ca02c" fill-opacity="0.62" stroke="#2a9a2a" stroke-opacity="0.6" stroke-width="1.1"/>
<circle cx="259.8" cy="640.0" r="3.7" fill="#2ca02c" fill-opacity="0.62" stroke="#2a9a2a" stroke-opacity="0.6" stroke-width="1.1"/>
<circle cx="266.2" cy="647.8" r="3.7" fill="#2ca02c" fill-opacity="0.62" stroke="#2a9a2a" stroke-opacity="0.6" stroke-width="1.1"/>
<circle cx="330.6" cy="638.8" r="3.7" fill="#2ca02c" fill-opacity="0.62" stroke="#2a9a2a" stroke-opacity="0.6" stroke-width="1.1"/>
<circle cx="334.1" cy="646.2" r="3.7" fill="#2ca02c" fill-opacity="0.62" stroke="#2a9a2a" stroke-opacity="0.6" stroke-width="1.1"/>
<circle cx="361.6" cy="648.5" r="3.7" fill="#2ca02c" fill-opacity="0.62" stroke="#2a9a2a" stroke-opacity="0.6" stroke-width="1.1"/>
<circle cx="206.2" cy="652.6" r="3.7" fill="#2ca02c" fill-opacity="0.62" stroke="#2a9a2a" stroke-opacity="0.6" stroke-width="1.1"/>
<circle cx="218.8" cy="655.4" r="3.7" fill="#2ca02c" fill-opacity="0.62" stroke="#2a9a2a" stroke-opacity="0.6" stroke-width="1.1"/>
<circle cx="225.8" cy="646.0" r="3.7" fill="#2ca02c" fill-opacity="0.62" stroke="#2a9a2a" stroke-opacity="0.6" stroke-width="1.1"/>
<circle cx="243.3" cy="657.8" r="3.7" fill="#2ca02c" fill-opacity="0.62" stroke="#2a9a2a" stroke-opacity="0.6" stroke-width="1.1"/>
<circle cx="256.6" cy="659.6" r="3.7" fill="#2ca02c" fill-opacity="0.62" stroke="#2a9a2a" stroke-opacity="0.6" stroke-width="1.1"/>
<circle cx="246.1" cy="665.2" r="3.7" fill="#2ca02c" fill-opacity="0.62" stroke="#2a9a2a" stroke-opacity="0.6" stroke-width="1.1"/>
<circle cx="255.5" cy="668.3" r="3.7" fill="#2ca02c" fill-opacity="0.62" stroke="#2a9a2a" stroke-opacity="0.6" stroke-width="1.1"/>
<circle cx="263.5" cy="684.8" r="3.7" fill="#2ca02c" fill-opacity="0.62" stroke="#2a9a2a" stroke-opacity="0.6" stroke-width="1.1"/>
<circle cx="233.8" cy="694.5" r="3.7" fill="#2ca02c" fill-opacity="0.62" stroke="#2a9a2a" stroke-opacity="0.6" stroke-width="1.1"/>
<circle cx="240.3" cy="694.8" r="3.7" fill="#2ca02c" fill-opacity="0.62" stroke="#2a9a2a" stroke-opacity="0.6" stroke-width="1.1"/>
<circle cx="255.5" cy="694.8" r="3.7" fill="#2ca02c" fill-opacity="0.62" stroke="#2a9a2a" stroke-opacity="0.6" stroke-width="1.1"/>
<circle cx="275.4" cy="697.6" r="3.7" fill="#2ca02c" fill-opacity="0.62" stroke="#2a9a2a" stroke-opacity="0.6" stroke-width="1.1"/>
<circle cx="252.5" cy="717.3" r="3.7" fill="#2ca02c" fill-opacity="0.62" stroke="#2a9a2a" stroke-opacity="0.6" stroke-width="1.1"/>
<circle cx="280.3" cy="655.4" r="3.7" fill="#2ca02c" fill-opacity="0.62" stroke="#2a9a2a" stroke-opacity="0.6" stroke-width="1.1"/>
<circle cx="281.7" cy="668.3" r="3.7" fill="#2ca02c" fill-opacity="0.62" stroke="#2a9a2a" stroke-opacity="0.6" stroke-width="1.1"/>
<circle cx="306.2" cy="668.3" r="3.7" fill="#2ca02c" fill-opacity="0.62" stroke="#2a9a2a" stroke-opacity="0.6" stroke-width="1.1"/>
<circle cx="339.9" cy="694.6" r="3.7" fill="#2ca02c" fill-opacity="0.62" stroke="#2a9a2a" stroke-opacity="0.6" stroke-width="1.1"/>
<circle cx="375.3" cy="691.4" r="3.7" fill="#2ca02c" fill-opacity="0.62" stroke="#2a9a2a" stroke-opacity="0.6" stroke-width="1.1"/>
<circle cx="297.0" cy="746.7" r="3.7" fill="#2ca02c" fill-opacity="0.62" stroke="#2a9a2a" stroke-opacity="0.6" stroke-width="1.1"/>
<circle cx="295.5" cy="587.2" r="3.7" fill="#5c22b0" fill-opacity="0.62" stroke="#4b1a96" stroke-opacity="0.6" stroke-width="1.1"/>
<circle cx="270.9" cy="606.3" r="3.7" fill="#5c22b0" fill-opacity="0.62" stroke="#4b1a96" stroke-opacity="0.6" stroke-width="1.1"/>
<circle cx="267.3" cy="609.9" r="3.7" fill="#5c22b0" fill-opacity="0.62" stroke="#4b1a96" stroke-opacity="0.6" stroke-width="1.1"/>
<circle cx="259.8" cy="612.9" r="3.7" fill="#5c22b0" fill-opacity="0.62" stroke="#4b1a96" stroke-opacity="0.6" stroke-width="1.1"/>
<circle cx="274.2" cy="612.9" r="3.7" fill="#5c22b0" fill-opacity="0.62" stroke="#4b1a96" stroke-opacity="0.6" stroke-width="1.1"/>
<circle cx="273.2" cy="615.4" r="3.7" fill="#5c22b0" fill-opacity="0.62" stroke="#4b1a96" stroke-opacity="0.6" stroke-width="1.1"/>
<circle cx="274.0" cy="615.8" r="3.7" fill="#5c22b0" fill-opacity="0.62" stroke="#4b1a96" stroke-opacity="0.6" stroke-width="1.1"/>
<circle cx="272.4" cy="622.8" r="3.7" fill="#5c22b0" fill-opacity="0.62" stroke="#4b1a96" stroke-opacity="0.6" stroke-width="1.1"/>
<circle cx="286.2" cy="622.8" r="3.7" fill="#5c22b0" fill-opacity="0.62" stroke="#4b1a96" stroke-opacity="0.6" stroke-width="1.1"/>
<circle cx="267.9" cy="626.4" r="3.7" fill="#5c22b0" fill-opacity="0.62" stroke="#4b1a96" stroke-opacity="0.6" stroke-width="1.1"/>
<circle cx="278.7" cy="626.4" r="3.7" fill="#5c22b0" fill-opacity="0.62" stroke="#4b1a96" stroke-opacity="0.6" stroke-width="1.1"/>
<circle cx="301.5" cy="613.2" r="3.7" fill="#5c22b0" fill-opacity="0.62" stroke="#4b1a96" stroke-opacity="0.6" stroke-width="1.1"/>
<circle cx="306.0" cy="634.8" r="3.7" fill="#5c22b0" fill-opacity="0.62" stroke="#4b1a96" stroke-opacity="0.6" stroke-width="1.1"/>
<circle cx="267.6" cy="637.2" r="3.7" fill="#5c22b0" fill-opacity="0.62" stroke="#4b1a96" stroke-opacity="0.6" stroke-width="1.1"/>
<circle cx="267.6" cy="642.6" r="3.7" fill="#5c22b0" fill-opacity="0.62" stroke="#4b1a96" stroke-opacity="0.6" stroke-width="1.1"/>
<circle cx="273.6" cy="643.2" r="3.7" fill="#5c22b0" fill-opacity="0.62" stroke="#4b1a96" stroke-opacity="0.6" stroke-width="1.1"/>
<circle cx="256.8" cy="647.2" r="3.7" fill="#5c22b0" fill-opacity="0.62" stroke="#4b1a96" stroke-opacity="0.6" stroke-width="1.1"/>
<circle cx="315.5" cy="570.8" r="3.7" fill="#5c22b0" fill-opacity="0.62" stroke="#4b1a96" stroke-opacity="0.6" stroke-width="1.1"/>
<circle cx="251.0" cy="619.8" r="3.7" fill="#5c22b0" fill-opacity="0.62" stroke="#4b1a96" stroke-opacity="0.6" stroke-width="1.1"/>
<circle cx="215.6" cy="626.1" r="3.7" fill="#5c22b0" fill-opacity="0.62" stroke="#4b1a96" stroke-opacity="0.6" stroke-width="1.1"/>
<circle cx="227.6" cy="629.1" r="3.7" fill="#5c22b0" fill-opacity="0.62" stroke="#4b1a96" stroke-opacity="0.6" stroke-width="1.1"/>
<circle cx="234.2" cy="629.1" r="3.7" fill="#5c22b0" fill-opacity="0.62" stroke="#4b1a96" stroke-opacity="0.6" stroke-width="1.1"/>
<circle cx="207.8" cy="632.4" r="3.7" fill="#5c22b0" fill-opacity="0.62" stroke="#4b1a96" stroke-opacity="0.6" stroke-width="1.1"/>
<circle cx="214.1" cy="636.9" r="3.7" fill="#5c22b0" fill-opacity="0.62" stroke="#4b1a96" stroke-opacity="0.6" stroke-width="1.1"/>
<circle cx="233.9" cy="641.7" r="3.7" fill="#5c22b0" fill-opacity="0.62" stroke="#4b1a96" stroke-opacity="0.6" stroke-width="1.1"/>
<circle cx="231.2" cy="645.3" r="3.7" fill="#5c22b0" fill-opacity="0.62" stroke="#4b1a96" stroke-opacity="0.6" stroke-width="1.1"/>
<circle cx="218.7" cy="647.8" r="3.7" fill="#5c22b0" fill-opacity="0.62" stroke="#4b1a96" stroke-opacity="0.6" stroke-width="1.1"/>
<circle cx="237.0" cy="648.4" r="3.7" fill="#5c22b0" fill-opacity="0.62" stroke="#4b1a96" stroke-opacity="0.6" stroke-width="1.1"/>
<circle cx="234.2" cy="651.2" r="3.7" fill="#5c22b0" fill-opacity="0.62" stroke="#4b1a96" stroke-opacity="0.6" stroke-width="1.1"/>
<circle cx="230.0" cy="655.4" r="3.7" fill="#5c22b0" fill-opacity="0.62" stroke="#4b1a96" stroke-opacity="0.6" stroke-width="1.1"/>
<circle cx="236.3" cy="658.2" r="3.7" fill="#5c22b0" fill-opacity="0.62" stroke="#4b1a96" stroke-opacity="0.6" stroke-width="1.1"/>
<circle cx="249.6" cy="654.7" r="3.7" fill="#5c22b0" fill-opacity="0.62" stroke="#4b1a96" stroke-opacity="0.6" stroke-width="1.1"/>
<circle cx="229.3" cy="663.8" r="3.7" fill="#5c22b0" fill-opacity="0.62" stroke="#4b1a96" stroke-opacity="0.6" stroke-width="1.1"/>
<circle cx="200.5" cy="671.5" r="3.7" fill="#5c22b0" fill-opacity="0.62" stroke="#4b1a96" stroke-opacity="0.6" stroke-width="1.1"/>
<circle cx="204.1" cy="673.6" r="3.7" fill="#5c22b0" fill-opacity="0.62" stroke="#4b1a96" stroke-opacity="0.6" stroke-width="1.1"/>
<circle cx="233.8" cy="675.0" r="3.7" fill="#5c22b0" fill-opacity="0.62" stroke="#4b1a96" stroke-opacity="0.6" stroke-width="1.1"/>
<circle cx="253.8" cy="678.1" r="3.7" fill="#5c22b0" fill-opacity="0.62" stroke="#4b1a96" stroke-opacity="0.6" stroke-width="1.1"/>
<circle cx="197.2" cy="688.0" r="3.7" fill="#5c22b0" fill-opacity="0.62" stroke="#4b1a96" stroke-opacity="0.6" stroke-width="1.1"/>
<circle cx="217.0" cy="691.4" r="3.7" fill="#5c22b0" fill-opacity="0.62" stroke="#4b1a96" stroke-opacity="0.6" stroke-width="1.1"/>
<circle cx="245.0" cy="697.5" r="3.7" fill="#5c22b0" fill-opacity="0.62" stroke="#4b1a96" stroke-opacity="0.6" stroke-width="1.1"/>
<circle cx="186.2" cy="652.2" r="3.7" fill="#5c22b0" fill-opacity="0.62" stroke="#4b1a96" stroke-opacity="0.6" stroke-width="1.1"/>
<circle cx="114.1" cy="668.5" r="3.7" fill="#5c22b0" fill-opacity="0.62" stroke="#4b1a96" stroke-opacity="0.6" stroke-width="1.1"/>
<circle cx="157.1" cy="675.0" r="3.7" fill="#5c22b0" fill-opacity="0.62" stroke="#4b1a96" stroke-opacity="0.6" stroke-width="1.1"/>
<circle cx="169.4" cy="678.2" r="3.7" fill="#5c22b0" fill-opacity="0.62" stroke="#4b1a96" stroke-opacity="0.6" stroke-width="1.1"/>
<circle cx="126.6" cy="691.4" r="3.7" fill="#5c22b0" fill-opacity="0.62" stroke="#4b1a96" stroke-opacity="0.6" stroke-width="1.1"/>
<circle cx="152.6" cy="743.3" r="3.7" fill="#5c22b0" fill-opacity="0.62" stroke="#4b1a96" stroke-opacity="0.6" stroke-width="1.1"/>
<circle cx="183.6" cy="766.4" r="3.7" fill="#5c22b0" fill-opacity="0.62" stroke="#4b1a96" stroke-opacity="0.6" stroke-width="1.1"/>
<circle cx="184.4" cy="766.4" r="3.7" fill="#5c22b0" fill-opacity="0.62" stroke="#4b1a96" stroke-opacity="0.6" stroke-width="1.1"/>
<circle cx="195.7" cy="763.1" r="3.7" fill="#5c22b0" fill-opacity="0.62" stroke="#4b1a96" stroke-opacity="0.6" stroke-width="1.1"/>
<circle cx="230.9" cy="704.1" r="3.7" fill="#5c22b0" fill-opacity="0.62" stroke="#4b1a96" stroke-opacity="0.6" stroke-width="1.1"/>
<circle cx="229.1" cy="707.7" r="3.7" fill="#5c22b0" fill-opacity="0.62" stroke="#4b1a96" stroke-opacity="0.6" stroke-width="1.1"/>
<circle cx="235.7" cy="710.9" r="3.7" fill="#5c22b0" fill-opacity="0.62" stroke="#4b1a96" stroke-opacity="0.6" stroke-width="1.1"/>
<circle cx="211.1" cy="717.3" r="3.7" fill="#5c22b0" fill-opacity="0.62" stroke="#4b1a96" stroke-opacity="0.6" stroke-width="1.1"/>
<circle cx="200.2" cy="730.5" r="3.7" fill="#5c22b0" fill-opacity="0.62" stroke="#4b1a96" stroke-opacity="0.6" stroke-width="1.1"/>
<circle cx="240.2" cy="730.5" r="3.7" fill="#5c22b0" fill-opacity="0.62" stroke="#4b1a96" stroke-opacity="0.6" stroke-width="1.1"/>
<circle cx="338.3" cy="636.0" r="3.7" fill="#5c22b0" fill-opacity="0.62" stroke="#4b1a96" stroke-opacity="0.6" stroke-width="1.1"/>
<circle cx="358.4" cy="629.4" r="3.7" fill="#5c22b0" fill-opacity="0.62" stroke="#4b1a96" stroke-opacity="0.6" stroke-width="1.1"/>
<circle cx="275.4" cy="675.0" r="3.7" fill="#5c22b0" fill-opacity="0.62" stroke="#4b1a96" stroke-opacity="0.6" stroke-width="1.1"/>
<circle cx="324.7" cy="671.8" r="3.7" fill="#5c22b0" fill-opacity="0.62" stroke="#4b1a96" stroke-opacity="0.6" stroke-width="1.1"/>
<circle cx="320.5" cy="681.5" r="3.7" fill="#5c22b0" fill-opacity="0.62" stroke="#4b1a96" stroke-opacity="0.6" stroke-width="1.1"/>
<circle cx="323.0" cy="688.0" r="3.7" fill="#5c22b0" fill-opacity="0.62" stroke="#4b1a96" stroke-opacity="0.6" stroke-width="1.1"/>
<circle cx="300.0" cy="697.6" r="3.7" fill="#5c22b0" fill-opacity="0.62" stroke="#4b1a96" stroke-opacity="0.6" stroke-width="1.1"/>
<circle cx="307.7" cy="700.3" r="3.7" fill="#5c22b0" fill-opacity="0.62" stroke="#4b1a96" stroke-opacity="0.6" stroke-width="1.1"/>
<circle cx="336.9" cy="675.0" r="3.7" fill="#5c22b0" fill-opacity="0.62" stroke="#4b1a96" stroke-opacity="0.6" stroke-width="1.1"/>
<path d="M114.2,683.5 L120.3,682.3 L126.4,681.2 L132.5,680.0 L138.6,678.8 L144.7,677.6 L150.8,676.4 L157.0,675.1 L163.1,673.9 L169.2,672.6 L175.3,671.3 L181.4,670.0 L187.5,668.7 L193.6,667.3 L199.7,665.8 L205.8,664.3 L211.9,662.7 L218.0,661.1 L224.1,659.3 L230.2,657.5 L236.4,655.5 L242.5,653.4 L248.6,651.1 L254.7,648.7 L260.8,646.2 L266.9,643.6 L273.0,640.9 L279.1,638.1 L285.2,635.2 L291.3,632.2 L297.4,629.2 L303.5,626.2 L309.6,623.1 L315.7,619.9 L321.9,616.8 L328.0,613.6 L334.1,610.4 L340.2,607.2 L346.3,604.0 L352.4,600.7 L358.5,597.5 L358.5,644.1 L352.4,645.3 L346.3,646.5 L340.2,647.7 L334.1,648.9 L328.0,650.2 L321.9,651.4 L315.7,652.7 L309.6,654.0 L303.5,655.4 L297.4,656.7 L291.3,658.2 L285.2,659.6 L279.1,661.2 L273.0,662.8 L266.9,664.5 L260.8,666.3 L254.7,668.3 L248.6,670.3 L242.5,672.5 L236.4,674.8 L230.2,677.3 L224.1,679.9 L218.0,682.5 L211.9,685.3 L205.8,688.2 L199.7,691.1 L193.6,694.1 L187.5,697.1 L181.4,700.2 L175.3,703.3 L169.2,706.5 L163.1,709.6 L157.0,712.8 L150.8,716.0 L144.7,719.2 L138.6,722.5 L132.5,725.7 L126.4,729.0 L120.3,732.2 L114.2,735.5Z" fill="#aeaeae" fill-opacity="0.47"/>
<path d="M162.0,603.8 L167.3,605.4 L172.7,606.9 L178.0,608.5 L183.3,610.1 L188.6,611.6 L194.0,613.1 L199.3,614.6 L204.6,616.1 L209.9,617.5 L215.3,619.0 L220.6,620.3 L225.9,621.6 L231.3,622.9 L236.6,624.1 L241.9,625.2 L247.2,626.2 L252.6,627.2 L257.9,628.0 L263.2,628.6 L268.6,629.2 L273.9,629.6 L279.2,629.9 L284.5,630.1 L289.9,630.2 L295.2,630.3 L300.5,630.2 L305.8,630.0 L311.2,629.9 L316.5,629.6 L321.8,629.3 L327.2,629.0 L332.5,628.7 L337.8,628.3 L343.1,627.9 L348.5,627.5 L353.8,627.1 L359.1,626.7 L364.4,626.2 L369.8,625.8 L375.1,625.3 L375.1,676.1 L369.8,674.5 L364.4,672.9 L359.1,671.3 L353.8,669.8 L348.5,668.2 L343.1,666.7 L337.8,665.1 L332.5,663.6 L327.2,662.2 L321.8,660.7 L316.5,659.3 L311.2,657.9 L305.8,656.6 L300.5,655.3 L295.2,654.1 L289.9,653.0 L284.5,652.0 L279.2,651.0 L273.9,650.2 L268.6,649.5 L263.2,648.9 L257.9,648.5 L252.6,648.1 L247.2,647.9 L241.9,647.8 L236.6,647.8 L231.3,647.9 L225.9,648.0 L220.6,648.2 L215.3,648.4 L209.9,648.7 L204.6,649.0 L199.3,649.3 L194.0,649.7 L188.6,650.1 L183.3,650.5 L178.0,650.9 L172.7,651.3 L167.3,651.8 L162.0,652.2Z" fill="#aeaeae" fill-opacity="0.47"/>
<line x1="114.2" y1="709.5" x2="358.5" y2="620.8" stroke="#5a1ea6" stroke-width="4" />
<line x1="162.0" y1="628.0" x2="375.1" y2="650.7" stroke="#33a02c" stroke-width="4" />
<line x1="106.5" y1="661.6" x2="378.0" y2="661.6" stroke="#454545" stroke-width="2" stroke-dasharray="4.5,5.37" stroke-opacity="0.9"/>
<path d="M101.1,534.0 L101.1,777.3 L388.3,777.3" fill="none" stroke="#000" stroke-width="4" stroke-linejoin="miter" stroke-linecap="butt"/>
<line x1="95.6" y1="593.9" x2="101.1" y2="593.9" stroke="#222" stroke-width="1.2" />
<line x1="95.6" y1="659.0" x2="101.1" y2="659.0" stroke="#222" stroke-width="1.2" />
<line x1="95.6" y1="724.1" x2="101.1" y2="724.1" stroke="#222" stroke-width="1.2" />
<line x1="168.1" y1="777.3" x2="168.1" y2="782.8" stroke="#222" stroke-width="1.2" />
<line x1="237.2" y1="777.3" x2="237.2" y2="782.8" stroke="#222" stroke-width="1.2" />
<line x1="306.2" y1="777.3" x2="306.2" y2="782.8" stroke="#222" stroke-width="1.2" />
<line x1="375.3" y1="777.3" x2="375.3" y2="782.8" stroke="#222" stroke-width="1.2" />
<text x="86.0" y="598.4" font-size="22.5" text-anchor="end" font-weight="normal" font-style="normal" fill="#000"  stroke="#000" stroke-width="0.45">120</text>
<text x="86.0" y="667.8" font-size="22.5" text-anchor="end" font-weight="normal" font-style="normal" fill="#000"  stroke="#000" stroke-width="0.45">100</text>
<text x="86.0" y="737.3" font-size="22.5" text-anchor="end" font-weight="normal" font-style="normal" fill="#000"  stroke="#000" stroke-width="0.45">80</text>
<text x="165.6" y="806.7" font-size="22.5" text-anchor="middle" font-weight="normal" font-style="normal" fill="#000"  stroke="#000" stroke-width="0.45">5.0</text>
<text x="227.3" y="806.7" font-size="22.5" text-anchor="middle" font-weight="normal" font-style="normal" fill="#000"  stroke="#000" stroke-width="0.45">7.5</text>
<text x="295.4" y="806.7" font-size="22.5" text-anchor="middle" font-weight="normal" font-style="normal" fill="#000"  stroke="#000" stroke-width="0.45">10.0</text>
<text x="370.1" y="806.7" font-size="22.5" text-anchor="middle" font-weight="normal" font-style="normal" fill="#000"  stroke="#000" stroke-width="0.45">12.5</text>
<text x="261.7" y="836.3" font-size="22.5" text-anchor="middle" font-weight="normal" font-style="normal" fill="#000"  stroke="#000" stroke-width="0.45">Pumps</text>
<text x="37.8" y="667.0" font-size="24.6" text-anchor="middle" font-weight="normal" font-style="normal" fill="#000" transform="rotate(-90 37.8 667)" stroke="#000" stroke-width="0.45">Academic Skills</text>
<text x="110.0" y="570.0" font-size="22.3" text-anchor="start" font-weight="normal" font-style="normal" fill="#000"  stroke="#000" stroke-width="0.45"><tspan font-style="italic">p</tspan>=0.009</text>
<path d="M195.75,557.60 L195.75,554.00 M195.75,557.60 L199.17,556.49 M195.75,557.60 L197.87,560.51 M195.75,557.60 L193.63,560.51 M195.75,557.60 L192.33,556.49 " stroke="#000" stroke-width="1.75" stroke-linecap="butt" fill="none"/>
<path d="M204.50,557.60 L204.50,554.00 M204.50,557.60 L207.92,556.49 M204.50,557.60 L206.62,560.51 M204.50,557.60 L202.38,560.51 M204.50,557.60 L201.08,556.49 " stroke="#000" stroke-width="1.75" stroke-linecap="butt" fill="none"/>
<path d="M369.80,614.50 L369.80,609.80 M369.80,614.50 L374.27,613.05 M369.80,614.50 L372.56,618.30 M369.80,614.50 L367.04,618.30 M369.80,614.50 L365.33,613.05 " stroke="#4b1a96" stroke-width="2.5" stroke-linecap="butt" fill="none"/>
<path d="M379.80,614.50 L379.80,609.80 M379.80,614.50 L384.27,613.05 M379.80,614.50 L382.56,618.30 M379.80,614.50 L377.04,618.30 M379.80,614.50 L375.33,613.05 " stroke="#4b1a96" stroke-width="2.5" stroke-linecap="butt" fill="none"/>
<path d="M390.20,614.50 L390.20,609.80 M390.20,614.50 L394.67,613.05 M390.20,614.50 L392.96,618.30 M390.20,614.50 L387.44,618.30 M390.20,614.50 L385.73,613.05 " stroke="#4b1a96" stroke-width="2.5" stroke-linecap="butt" fill="none"/>
<text x="381.0" y="653.0" font-size="13.5" text-anchor="start" font-weight="bold" font-style="normal" fill="#33a02c" stroke="#33a02c" stroke-width="0.45">n.s.</text>
<line x1="402.3" y1="660.9" x2="422.4" y2="660.9" stroke="#000" stroke-width="4.5" />
<path d="M390.3,660.9 L406.3,653.1 L406.3,668.7Z" fill="#000"/>
<text x="432.5" y="663.3" font-size="22.5" text-anchor="start" font-weight="normal" font-style="normal" fill="#000"  stroke="#000" stroke-width="0.45">Population</text>
<text x="432.5" y="689.3" font-size="22.5" text-anchor="start" font-weight="normal" font-style="normal" fill="#000"  stroke="#000" stroke-width="0.45">average</text>
<line x1="89.0" y1="862.7" x2="127.5" y2="862.7" stroke="#4b1a96" stroke-width="4.5" />
<text x="151.5" y="870.0" font-size="22.5" text-anchor="start" font-weight="normal" font-style="normal" fill="#000"  stroke="#000" stroke-width="0.45">Lower SES</text>
<line x1="284.0" y1="862.7" x2="322.2" y2="862.7" stroke="#2d9123" stroke-width="4.5" />
<text x="324.5" y="870.0" font-size="22.5" text-anchor="start" font-weight="normal" font-style="normal" fill="#000"  stroke="#000" stroke-width="0.45">Higher SES</text>
<text x="573.5" y="519.0" font-size="30.5" text-anchor="start" font-weight="bold" font-style="normal" fill="#000" >d</text>
<rect x="642.5" y="522.5" width="301.5" height="265.5" fill="none" stroke="#e3e3e3" stroke-width="1"/>
<path d="M661.8,608.7 L668.3,608.2 L674.7,607.7 L681.2,607.1 L687.6,606.6 L694.1,606.1 L700.5,605.5 L707.0,604.9 L713.4,604.3 L719.9,603.7 L726.3,603.1 L732.8,602.5 L739.3,601.8 L745.7,601.1 L752.2,600.4 L758.6,599.6 L765.1,598.7 L771.5,597.8 L778.0,596.8 L784.4,595.7 L790.9,594.4 L797.4,593.0 L803.8,591.4 L810.3,589.7 L816.7,587.8 L823.2,585.7 L829.6,583.6 L836.1,581.3 L842.5,579.0 L849.0,576.6 L855.5,574.2 L861.9,571.7 L868.4,569.2 L874.8,566.6 L881.3,564.0 L887.7,561.4 L894.2,558.8 L900.6,556.2 L907.1,553.6 L913.5,550.9 L920.0,548.2 L920.0,592.8 L913.5,593.3 L907.1,593.8 L900.6,594.4 L894.2,595.0 L887.7,595.6 L881.3,596.2 L874.8,596.8 L868.4,597.4 L861.9,598.1 L855.5,598.8 L849.0,599.6 L842.5,600.4 L836.1,601.3 L829.6,602.2 L823.2,603.3 L816.7,604.4 L810.3,605.7 L803.8,607.2 L797.4,608.8 L790.9,610.6 L784.4,612.5 L778.0,614.6 L771.5,616.8 L765.1,619.1 L758.6,621.4 L752.2,623.8 L745.7,626.3 L739.3,628.8 L732.8,631.3 L726.3,633.9 L719.9,636.5 L713.4,639.1 L707.0,641.7 L700.5,644.3 L694.1,646.9 L687.6,649.6 L681.2,652.3 L674.7,654.9 L668.3,657.6 L661.8,660.3Z" fill="#d9d9d9" fill-opacity="1.0"/>
<line x1="661.8" y1="634.5" x2="920.0" y2="570.5" stroke="#000" stroke-width="4" />
<circle cx="673.5" cy="584.0" r="4.2" fill="#6583eb"/>
<circle cx="703.5" cy="582.0" r="4.2" fill="#6484ec"/>
<circle cx="709.0" cy="589.5" r="4.2" fill="#6880e9"/>
<circle cx="730.5" cy="591.0" r="4.2" fill="#697fe8"/>
<circle cx="729.5" cy="598.0" r="4.2" fill="#6d7be4"/>
<circle cx="744.0" cy="569.8" r="4.2" fill="#4e9ef9"/>
<circle cx="747.5" cy="594.5" r="4.2" fill="#6b7de6"/>
<circle cx="752.6" cy="546.7" r="4.2" fill="#4ca1fb"/>
<circle cx="772.5" cy="546.3" r="4.2" fill="#4ca1fc"/>
<circle cx="781.3" cy="549.0" r="4.2" fill="#4da1fb"/>
<circle cx="790.1" cy="544.0" r="4.2" fill="#4ca2fc"/>
<circle cx="786.8" cy="552.9" r="4.2" fill="#4da0fb"/>
<circle cx="765.1" cy="559.5" r="4.2" fill="#4da0fa"/>
<circle cx="762.6" cy="565.0" r="4.2" fill="#4e9ffa"/>
<circle cx="773.6" cy="559.5" r="4.2" fill="#4da0fa"/>
<circle cx="780.8" cy="558.9" r="4.2" fill="#4da0fa"/>
<circle cx="776.4" cy="565.0" r="4.2" fill="#4e9ffa"/>
<circle cx="791.2" cy="568.0" r="4.2" fill="#4e9ef9"/>
<circle cx="801.0" cy="543.5" r="4.2" fill="#4ca2fc"/>
<circle cx="806.0" cy="543.5" r="4.2" fill="#4ca2fc"/>
<circle cx="795.3" cy="548.3" r="4.2" fill="#4ca1fb"/>
<circle cx="815.5" cy="556.5" r="4.2" fill="#4da0fa"/>
<circle cx="797.2" cy="550.7" r="4.2" fill="#4da1fb"/>
<circle cx="795.5" cy="555.6" r="4.2" fill="#4da0fb"/>
<circle cx="801.0" cy="556.2" r="4.2" fill="#4da0fa"/>
<circle cx="808.7" cy="553.4" r="4.2" fill="#4da0fb"/>
<circle cx="806.5" cy="558.9" r="4.2" fill="#4da0fa"/>
<circle cx="810.4" cy="566.0" r="4.2" fill="#4e9ff9"/>
<circle cx="813.1" cy="560.0" r="4.2" fill="#4d9ffa"/>
<circle cx="818.6" cy="549.0" r="4.2" fill="#4da1fb"/>
<circle cx="821.9" cy="549.0" r="4.2" fill="#4da1fb"/>
<circle cx="819.7" cy="555.6" r="4.2" fill="#4da0fb"/>
<circle cx="825.2" cy="563.9" r="4.2" fill="#4e9ffa"/>
<circle cx="842.8" cy="545.7" r="4.2" fill="#4ca1fc"/>
<circle cx="841.0" cy="555.0" r="4.2" fill="#4da0fb"/>
<circle cx="860.5" cy="544.8" r="4.2" fill="#4ca2fc"/>
<circle cx="861.2" cy="551.0" r="4.2" fill="#4da1fb"/>
<circle cx="847.0" cy="560.5" r="4.2" fill="#4d9ffa"/>
<circle cx="847.0" cy="565.0" r="4.2" fill="#4e9ffa"/>
<circle cx="876.5" cy="561.5" r="4.2" fill="#4d9ffa"/>
<circle cx="885.8" cy="555.8" r="4.2" fill="#4da0fb"/>
<circle cx="906.2" cy="553.2" r="4.2" fill="#4da0fb"/>
<circle cx="896.2" cy="564.2" r="4.2" fill="#4e9ffa"/>
<circle cx="885.0" cy="583.0" r="4.2" fill="#6584eb"/>
<circle cx="885.0" cy="591.2" r="4.2" fill="#697fe8"/>
<circle cx="920.8" cy="582.0" r="4.2" fill="#6484ec"/>
<circle cx="851.5" cy="598.5" r="4.2" fill="#6d7be4"/>
<circle cx="839.5" cy="601.0" r="4.2" fill="#6f7ae3"/>
<circle cx="842.5" cy="605.5" r="4.2" fill="#7277e0"/>
<circle cx="869.5" cy="596.0" r="4.2" fill="#6c7de6"/>
<circle cx="877.5" cy="596.0" r="4.2" fill="#6c7de6"/>
<circle cx="881.5" cy="602.0" r="4.2" fill="#6f79e2"/>
<circle cx="868.5" cy="603.5" r="4.2" fill="#7078e1"/>
<circle cx="903.0" cy="597.2" r="4.2" fill="#6c7ce5"/>
<circle cx="752.2" cy="588.4" r="4.2" fill="#6781e9"/>
<circle cx="773.9" cy="577.7" r="4.2" fill="#5d8df0"/>
<circle cx="775.8" cy="584.3" r="4.2" fill="#6683eb"/>
<circle cx="765.1" cy="587.1" r="4.2" fill="#6782ea"/>
<circle cx="772.5" cy="588.7" r="4.2" fill="#6881e9"/>
<circle cx="779.1" cy="590.4" r="4.2" fill="#6880e8"/>
<circle cx="780.8" cy="595.3" r="4.2" fill="#6b7de6"/>
<circle cx="762.6" cy="595.9" r="4.2" fill="#6c7de6"/>
<circle cx="770.9" cy="601.4" r="4.2" fill="#6f7ae3"/>
<circle cx="760.4" cy="605.2" r="4.2" fill="#7177e0"/>
<circle cx="781.9" cy="603.6" r="4.2" fill="#7078e1"/>
<circle cx="789.0" cy="602.5" r="4.2" fill="#7079e2"/>
<circle cx="791.8" cy="586.0" r="4.2" fill="#6682ea"/>
<circle cx="799.5" cy="580.5" r="4.2" fill="#6386ed"/>
<circle cx="802.2" cy="580.7" r="4.2" fill="#6486ec"/>
<circle cx="824.2" cy="578.3" r="4.2" fill="#5f8bef"/>
<circle cx="825.5" cy="586.0" r="4.2" fill="#6682ea"/>
<circle cx="828.0" cy="588.7" r="4.2" fill="#6881e9"/>
<circle cx="814.0" cy="585.7" r="4.2" fill="#6682ea"/>
<circle cx="802.7" cy="594.8" r="4.2" fill="#6b7de6"/>
<circle cx="802.7" cy="601.4" r="4.2" fill="#6f7ae3"/>
<circle cx="811.0" cy="600.8" r="4.2" fill="#6f7ae3"/>
<circle cx="813.2" cy="592.6" r="4.2" fill="#6a7ee7"/>
<circle cx="817.6" cy="593.7" r="4.2" fill="#6a7ee7"/>
<circle cx="819.8" cy="598.6" r="4.2" fill="#6d7be4"/>
<circle cx="831.3" cy="601.4" r="4.2" fill="#6f7ae3"/>
<circle cx="733.0" cy="626.8" r="4.2" fill="#7c6ed5"/>
<circle cx="744.0" cy="629.2" r="4.2" fill="#7c6ed5"/>
<circle cx="750.8" cy="614.5" r="4.2" fill="#7673db"/>
<circle cx="742.5" cy="650.0" r="4.2" fill="#9263c0"/>
<circle cx="742.0" cy="657.0" r="4.2" fill="#9462be"/>
<circle cx="732.0" cy="659.5" r="4.2" fill="#9562bd"/>
<circle cx="699.8" cy="670.3" r="4.2" fill="#985fb7"/>
<circle cx="801.5" cy="620.0" r="4.2" fill="#7971d9"/>
<circle cx="807.5" cy="617.0" r="4.2" fill="#7772da"/>
<circle cx="821.5" cy="614.5" r="4.2" fill="#7673db"/>
<circle cx="779.5" cy="632.0" r="4.2" fill="#7d6dd4"/>
<circle cx="786.5" cy="630.8" r="4.2" fill="#7d6dd4"/>
<circle cx="763.2" cy="651.5" r="4.2" fill="#9363bf"/>
<circle cx="782.0" cy="654.5" r="4.2" fill="#9463be"/>
<circle cx="783.5" cy="657.0" r="4.2" fill="#9462be"/>
<circle cx="780.0" cy="667.5" r="4.2" fill="#9760b9"/>
<circle cx="783.5" cy="674.0" r="4.2" fill="#995db5"/>
<circle cx="755.0" cy="676.5" r="4.2" fill="#995cb3"/>
<circle cx="865.5" cy="618.2" r="4.2" fill="#7872da"/>
<circle cx="846.0" cy="666.0" r="4.2" fill="#9761ba"/>
<circle cx="853.5" cy="666.5" r="4.2" fill="#9760ba"/>
<circle cx="878.8" cy="674.8" r="4.2" fill="#995db4"/>
<circle cx="661.7" cy="738.7" r="4.2" fill="#aa3a7f"/>
<circle cx="716.6" cy="741.9" r="4.2" fill="#ab387b"/>
<circle cx="746.1" cy="738.7" r="4.2" fill="#aa3a7f"/>
<circle cx="786.2" cy="703.7" r="4.2" fill="#9f4fa0"/>
<circle cx="780.6" cy="712.0" r="4.2" fill="#a24a98"/>
<circle cx="827.1" cy="699.1" r="4.2" fill="#9e52a4"/>
<circle cx="797.9" cy="722.8" r="4.2" fill="#a5448e"/>
<circle cx="795.9" cy="766.6" r="4.2" fill="#b42864"/>
<circle cx="883.5" cy="732.1" r="4.2" fill="#a73f86"/>
<path d="M648.7,533.2 L648.7,777.7 L933.2,777.7" fill="none" stroke="#000" stroke-width="4" stroke-linejoin="miter" stroke-linecap="butt"/>
<line x1="643.2" y1="556.0" x2="648.7" y2="556.0" stroke="#222" stroke-width="1.2" />
<line x1="643.2" y1="591.6" x2="648.7" y2="591.6" stroke="#222" stroke-width="1.2" />
<line x1="643.2" y1="627.2" x2="648.7" y2="627.2" stroke="#222" stroke-width="1.2" />
<line x1="643.2" y1="662.9" x2="648.7" y2="662.9" stroke="#222" stroke-width="1.2" />
<line x1="643.2" y1="698.5" x2="648.7" y2="698.5" stroke="#222" stroke-width="1.2" />
<line x1="643.2" y1="734.1" x2="648.7" y2="734.1" stroke="#222" stroke-width="1.2" />
<line x1="643.2" y1="769.7" x2="648.7" y2="769.7" stroke="#222" stroke-width="1.2" />
<line x1="714.8" y1="777.7" x2="714.8" y2="783.2" stroke="#222" stroke-width="1.2" />
<line x1="783.2" y1="777.7" x2="783.2" y2="783.2" stroke="#222" stroke-width="1.2" />
<line x1="851.7" y1="777.7" x2="851.7" y2="783.2" stroke="#222" stroke-width="1.2" />
<line x1="920.1" y1="777.7" x2="920.1" y2="783.2" stroke="#222" stroke-width="1.2" />
<text x="637.0" y="564.5" font-size="22.5" text-anchor="end" font-weight="normal" font-style="normal" fill="#000"  stroke="#000" stroke-width="0.45">7</text>
<text x="637.0" y="601.1" font-size="22.5" text-anchor="end" font-weight="normal" font-style="normal" fill="#000"  stroke="#000" stroke-width="0.45">6</text>
<text x="637.0" y="637.5" font-size="22.5" text-anchor="end" font-weight="normal" font-style="normal" fill="#000"  stroke="#000" stroke-width="0.45">5</text>
<text x="637.0" y="673.0" font-size="22.5" text-anchor="end" font-weight="normal" font-style="normal" fill="#000"  stroke="#000" stroke-width="0.45">4</text>
<text x="637.0" y="708.6" font-size="22.5" text-anchor="end" font-weight="normal" font-style="normal" fill="#000"  stroke="#000" stroke-width="0.45">3</text>
<text x="637.0" y="744.2" font-size="22.5" text-anchor="end" font-weight="normal" font-style="normal" fill="#000"  stroke="#000" stroke-width="0.45">2</text>
<text x="637.0" y="779.7" font-size="22.5" text-anchor="end" font-weight="normal" font-style="normal" fill="#000"  stroke="#000" stroke-width="0.45">1</text>
<text x="714.1" y="805.6" font-size="22.5" text-anchor="middle" font-weight="normal" font-style="normal" fill="#000"  stroke="#000" stroke-width="0.45">5.0</text>
<text x="776.6" y="805.6" font-size="22.5" text-anchor="middle" font-weight="normal" font-style="normal" fill="#000"  stroke="#000" stroke-width="0.45">7.5</text>
<text x="845.0" y="805.6" font-size="22.5" text-anchor="middle" font-weight="normal" font-style="normal" fill="#000"  stroke="#000" stroke-width="0.45">10.0</text>
<text x="918.9" y="805.6" font-size="22.5" text-anchor="middle" font-weight="normal" font-style="normal" fill="#000"  stroke="#000" stroke-width="0.45">12.5</text>
<text x="810.0" y="836.5" font-size="22.5" text-anchor="middle" font-weight="normal" font-style="normal" fill="#000"  stroke="#000" stroke-width="0.45">Pumps</text>
<text x="605.5" y="641.3" font-size="24.6" text-anchor="middle" font-weight="normal" font-style="normal" fill="#000" transform="rotate(-90 605.5 641.3)" stroke="#000" stroke-width="0.45">Grades</text>
<text x="655.5" y="550.5" font-size="22.3" text-anchor="start" font-weight="normal" font-style="normal" fill="#000"  stroke="#000" stroke-width="0.45"><tspan font-style="italic">p</tspan>=0.009</text>
<path d="M741.10,537.75 L741.10,534.15 M741.10,537.75 L744.52,536.64 M741.10,537.75 L743.22,540.66 M741.10,537.75 L738.98,540.66 M741.10,537.75 L737.68,536.64 " stroke="#000" stroke-width="1.75" stroke-linecap="butt" fill="none"/>
<path d="M749.85,537.75 L749.85,534.15 M749.85,537.75 L753.27,536.64 M749.85,537.75 L751.97,540.66 M749.85,537.75 L747.73,540.66 M749.85,537.75 L746.43,536.64 " stroke="#000" stroke-width="1.75" stroke-linecap="butt" fill="none"/>
</svg>
</body></html>
